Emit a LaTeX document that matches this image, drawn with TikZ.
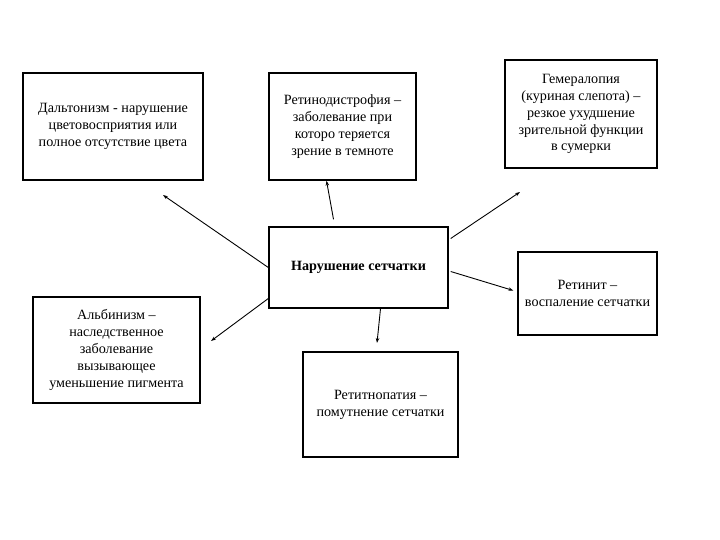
\documentclass[tikz,border=0pt]{standalone}
\usepackage{fontspec}
\setmainfont{Liberation Serif}
\usetikzlibrary{arrows.meta}

\tikzset{
  box/.style={draw,line width=1.4pt,inner sep=1pt,align=center,font=\fontsize{14.2}{17}\selectfont},
  arr/.style={line width=0.9pt,-{Stealth[length=5pt,width=3.5pt]}}
}

\begin{document}
\begin{tikzpicture}[x=1bp,y=-1bp]
    	\useasboundingbox (0,0) rectangle (720,540);
    	% центральный блок
    	\node[box,minimum width=179bp,minimum height=81bp] (nr) at (358.5,267.5) {\textbf{Нарушение сетчатки}};
    	% верхний ряд
    	\node[box,minimum width=180bp,minimum height=107bp] (dt) at (113,126.5) {Дальтонизм - нарушение\\цветовосприятия или\\полное отсутствие цвета};
    	\node[box,minimum width=147bp,minimum height=107bp] (rd) at (342.5,126.5) {Ретинодистрофия –\\заболевание при\\которо теряется\\зрение в темноте};
    	\node[box,minimum width=152bp,minimum height=108bp] (hm) at (581,114) {Гемералопия\\(куриная слепота) –\\резкое ухудшение\\зрительной функции\\в сумерки};
    	% нижний ряд
    	\node[box,minimum width=139bp,minimum height=83bp] (rt) at (587.5,293.5) {Ретинит –\\воспаление сетчатки};
    	\node[box,minimum width=167bp,minimum height=106bp] (ab) at (116.5,350) {Альбинизм –\\наследственное\\заболевание\\вызывающее\\уменьшение пигмента};
    	\node[box,minimum width=155bp,minimum height=105bp] (rp) at (380.5,404.5) {Ретитнопатия –\\помутнение сетчатки};
    	% свободные концы стрелок
    	\coordinate (e1) at (163,195);
    	\coordinate (e3) at (520,192);
    	\coordinate (e4) at (211,341);
    	\coordinate (e5) at (377,343);
    	% стрелки
    	\draw[arr] (nr.west) -- (e1);
    	\draw[arr] ([xshift=-25bp,yshift=7bp]nr.north) -- ([xshift=-16bp]rd.south);
    	\draw[arr] ([xshift=2bp,yshift=29bp]nr.east) -- (e3);
    	\draw[arr] ([yshift=-31bp]nr.west) -- (e4);
    	\draw[arr] ([xshift=22bp]nr.south) -- (e5);
    	\draw[arr] ([xshift=2bp,yshift=-4bp]nr.east) -- ([xshift=-4bp,yshift=3bp]rt.west);
\end{tikzpicture}
\end{document}
